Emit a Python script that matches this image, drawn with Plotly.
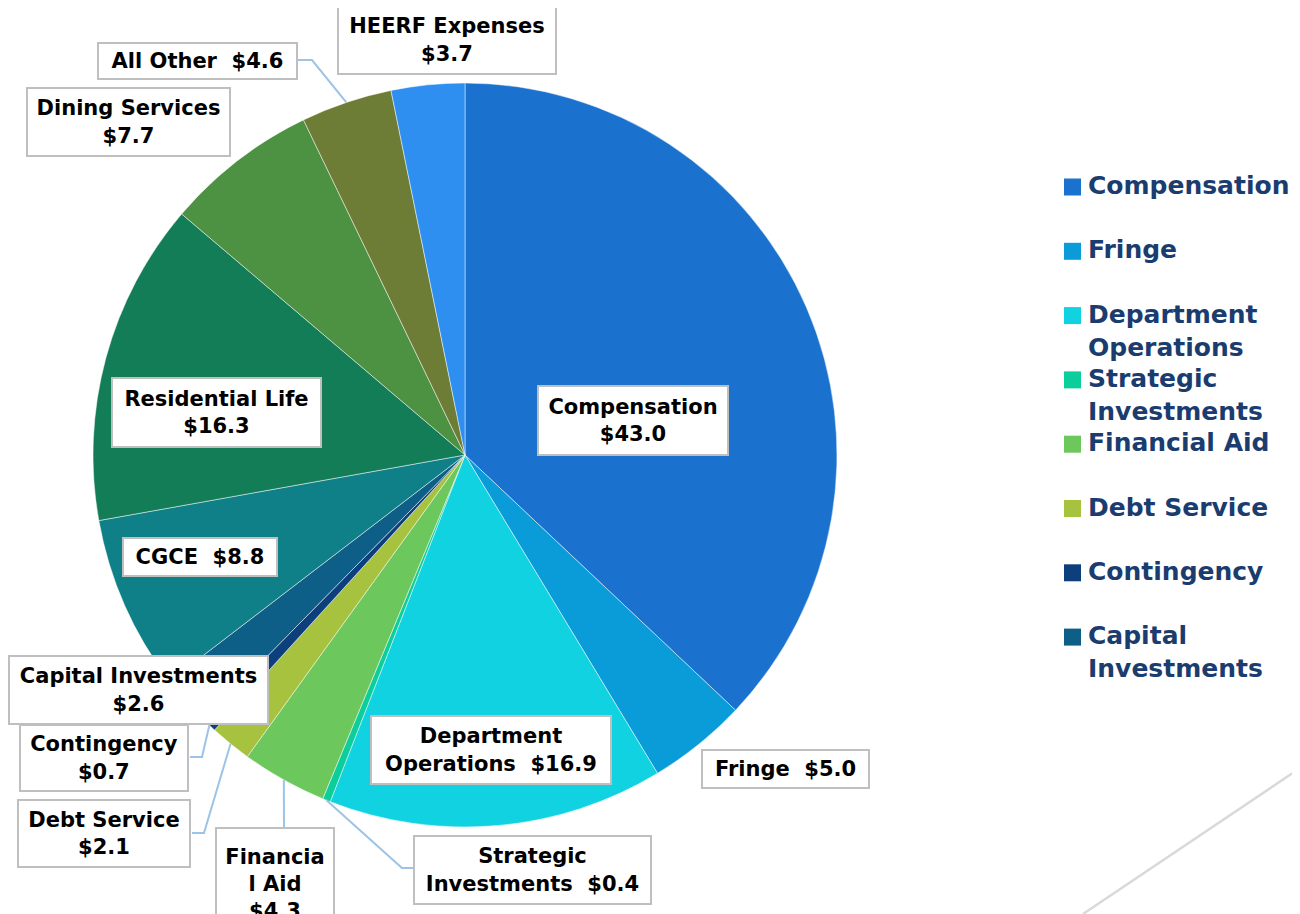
import math
import plotly.graph_objects as go

# budget by category ($M), clockwise from 12 o'clock
categories = ["Compensation", "Fringe", "Department Operations", "Strategic Investments",
              "Financial Aid", "Debt Service", "Contingency", "Capital Investments",
              "CGCE", "Residential Life", "Dining Services", "All Other", "HEERF Expenses"]
values = [43.0, 5.0, 16.9, 0.4, 4.3, 2.1, 0.7, 2.6, 8.8, 16.3, 7.7, 4.6, 3.7]

# how the names are wrapped inside the data label boxes
label_names = ["Compensation", "Fringe", "Department<br>Operations", "Strategic<br>Investments",
               "Financia<br>l Aid", "Debt Service", "Contingency", "Capital Investments",
               "CGCE", "Residential Life", "Dining Services", "All Other", "HEERF Expenses"]
label_joins = ["<br>", "  ", "  ", "  ", "<br>", "<br>", "<br>", "<br>",
               "  ", "<br>", "<br>", "  ", "<br>"]

# legend box on the slide only shows the first 8 entries
legend_names = ["Compensation", "Fringe", "Department<br>Operations", "Strategic<br>Investments",
                "Financial Aid", "Debt Service", "Contingency", "Capital<br>Investments"]

colors = ["#1a72ce", "#0a9bd9", "#10d2e0", "#0cce9a", "#6cc75c", "#a6c23e", "#0c3f7c",
          "#0e5f88", "#0f8088", "#137d58", "#4d9142", "#6e7d36", "#2f8ff0"]

W, H = 1300, 914
OFF = 8  # page body margin, the plot div sits 8px in from the corner
cx, cy, R = 465, 455, 372  # pie centre / radius in screen px

# label boxes: centre x, centre y, width, height (screen px)
boxes = [
    (633, 420, 192, 71),
    (785, 769, 169, 40),
    (491, 750, 242, 70),
    (532, 870, 239, 70),
    (275, 884, 120, 114),
    (104, 833, 174, 69),
    (104, 758, 170, 68),
    (138, 690, 261, 70),
    (200, 557, 156, 40),
    (216, 412, 211, 71),
    (129, 122, 205, 70),
    (197, 61, 201, 38),
    (447, 40, 220, 70),
]
# leader line bends (screen px), from the box towards the slice
leaders = {
    3: [(413, 868), (402, 868)],
    4: [(284, 827)],
    5: [(192, 833), (204, 833)],
    6: [(190, 757), (202, 757)],
    11: [(298, 60), (312, 60)],
}


def px(x, y):
    return (x - OFF) / W, 1 - (y - OFF) / H


fig = go.Figure()
dx0, dy0 = px(cx - R, cy + R)
dx1, dy1 = px(cx + R, cy - R)
fig.add_trace(go.Pie(
    labels=categories, values=values, sort=False, direction="clockwise", rotation=0,
    marker=dict(colors=colors, line=dict(color="rgba(255,255,255,0.6)", width=0.8)),
    textinfo="none", hoverinfo="label+value", showlegend=False,
    domain=dict(x=[dx0, dx1], y=[dy0, dy1]),
))

shapes = []
annotations = []

# leader lines to the outer edge of each small slice
total = sum(values)
cum = 0
for i, v in enumerate(values):
    theta = 2 * math.pi * (cum + v / 2) / total
    cum += v
    if i not in leaders:
        continue
    ex, ey = cx + R * math.sin(theta), cy - R * math.cos(theta)
    pts = leaders[i] + [(ex, ey)]
    path = ""
    for k, (x, y) in enumerate(pts):
        fx, fy = px(x, y)
        path += ("M" if k == 0 else " L") + f" {fx:.5f},{fy:.5f}"
    shapes.append(dict(type="path", path=path, xref="paper", yref="paper",
                       line=dict(color="#9dc3e6", width=2)))

# data label boxes
for i, v in enumerate(values):
    bx, by, bw, bh = boxes[i]
    fx, fy = px(bx, by)
    annotations.append(dict(
        x=fx, y=fy, xref="paper", yref="paper", xanchor="center", yanchor="middle",
        text=f"{label_names[i]}{label_joins[i]}${v:.1f}", showarrow=False,
        width=bw - 4, height=bh - 4, align="center", valign="middle",
        bgcolor="white", bordercolor="#bfbfbf", borderwidth=2, borderpad=0,
        font=dict(family="DejaVu Sans", size=21, color="black", weight="bold"),
    ))

# legend (manual, first 8 entries)
for i, name in enumerate(legend_names):
    yc = 187 + 64.3 * i
    x0, y0 = px(1064, yc - 8.5)
    x1, y1 = px(1081, yc + 8.5)
    shapes.append(dict(type="rect", xref="paper", yref="paper", x0=x0, x1=x1, y0=y0, y1=y1,
                       fillcolor=colors[i], line=dict(width=0)))
    tx, ty = px(1087, yc - 17)
    annotations.append(dict(
        x=tx, y=ty, xref="paper", yref="paper", xanchor="left", yanchor="top",
        text=name, showarrow=False, align="left", borderpad=0,
        font=dict(family="DejaVu Sans", size=25, color="#1a3c6e", weight="bold"),
    ))

# slide decoration line, bottom right
lx0, ly0 = px(1083, 914)
lx1, ly1 = px(1318, 756)
shapes.append(dict(type="line", xref="paper", yref="paper", x0=lx0, y0=ly0, x1=lx1, y1=ly1,
                   line=dict(color="#d9d9d9", width=2.5)))

fig.update_layout(
    width=W, height=H, margin=dict(l=0, r=0, t=0, b=0),
    paper_bgcolor="white", plot_bgcolor="white",
    shapes=shapes, annotations=annotations,
)

fig.write_html("out.html")
